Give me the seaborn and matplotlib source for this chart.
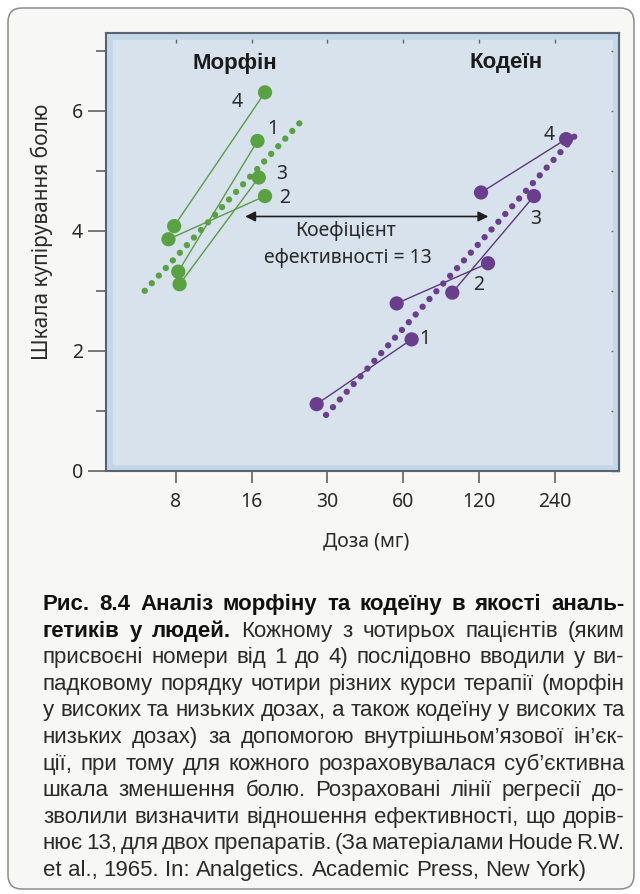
import numpy as np
import pandas as pd
import matplotlib
matplotlib.use("Agg")
import matplotlib.pyplot as plt
import seaborn as sns
from matplotlib.patches import FancyBboxPatch, Rectangle
from matplotlib.transforms import IdentityTransform
from matplotlib.ticker import FixedLocator, NullLocator, FixedFormatter

# ---------------- data ----------------
patients = [1, 2, 3, 4]
morphine_low_dose = [8.2, 7.5, 8.3, 7.9]
morphine_low_score = [3.32, 3.86, 3.11, 4.08]
morphine_high_dose = [16.9, 18.1, 17.1, 18.1]
morphine_high_score = [5.50, 4.58, 4.89, 6.31]
codeine_low_dose = [29.0, 60.2, 100.0, 130.0]
codeine_low_score = [1.11, 2.79, 2.97, 4.64]
codeine_high_dose = [69.0, 138.6, 210.8, 282.6]
codeine_high_score = [2.19, 3.46, 4.58, 5.53]
morphine_fit_dose = [6.04, 25.1]
morphine_fit_score = [3.00, 5.82]
codeine_fit_dose = [31.6, 313.4]
codeine_fit_score = [0.93, 5.63]
arrow_dose = [15.1, 139.0]
arrow_score = 4.24
x_ticks = [8, 16, 32, 64, 128, 256]
x_tick_labels = ["8", "16", "30", "60", "120", "240"]
y_major = [0, 2, 4, 6]
y_minor = [1, 3, 5, 7]
y_all = [0, 1, 2, 3, 4, 5, 6, 7]

drug_names = ["Морфін", "Кодеїн"]
x_label = "Доза (мг)"
y_label = "Шкала купірування болю"
ratio_text = ["Коефіцієнт", "ефективності = 13"]

caption = [
    [("Рис. 8.4 Аналіз морфіну та кодеїну в якості аналь-", "bold")],
    [("гетиків у людей.", "bold"), ("Кожному з чотирьох пацієнтів (яким", "normal")],
    [("присвоєні номери від 1 до 4) послідовно вводили у ви-", "normal")],
    [("падковому порядку чотири різних курси терапії (морфін", "normal")],
    [("у високих та низьких дозах, а також кодеїну у високих та", "normal")],
    [("низьких дозах) за допомогою внутрішньом’язової ін’єк-", "normal")],
    [("ції, при тому для кожного розраховувалася суб’єктивна", "normal")],
    [("шкала зменшення болю. Розраховані лінії регресії до-", "normal")],
    [("зволили визначити відношення ефективності, що дорів-", "normal")],
    [("нює 13, для двох препаратів. (За матеріалами Houde R.W.", "normal")],
    [("et al., 1965. In: Analgetics. Academic Press, New York)", "normal")],
]

# ---------------- styling ----------------
sns.set_theme(style="white")
plt.rcParams["font.family"] = ["Noto Sans", "DejaVu Sans"]

GREEN = "#58a23f"
GREEN_LINE = "#5a9c47"
PURPLE = "#6b3d8f"
PURPLE_LINE = "#5c3a7a"
TXT = "#2a2a2a"
SPINE = "#5a6470"
BOLD_FAM = ["Liberation Sans", "DejaVu Sans"]

W, H = 640, 894
fig = plt.figure(figsize=(W / 100, H / 100), dpi=100)
fig.patch.set_facecolor("white")

# rounded page frame
frame = FancyBboxPatch((8, 5), 626, 881, boxstyle="round,pad=0,rounding_size=14",
                       transform=IdentityTransform(), facecolor="#f7f7f5",
                       edgecolor="#8c8c8c", linewidth=1.1, zorder=0)
fig.add_artist(frame)

ax = fig.add_axes([106 / W, 1 - 470.7 / H, 513 / W, 437.7 / H])
ax.set_facecolor("#d7e2ed")
ax.set_xscale("log", base=2)
ax.set_xlim(4.24, 458)
ax.set_ylim(0, 7.30)

# inner bluish band of the panel
ax.add_patch(Rectangle((0, 0), 1, 1, transform=ax.transAxes, fill=False,
                       edgecolor="#c4d6e9", linewidth=9, zorder=0.5, clip_on=True))

rows = []
for drug, ld, ls, hd, hs in [
    (drug_names[0], morphine_low_dose, morphine_low_score, morphine_high_dose, morphine_high_score),
    (drug_names[1], codeine_low_dose, codeine_low_score, codeine_high_dose, codeine_high_score),
]:
    for i, p in enumerate(patients):
        rows.append((drug, p, ld[i], ls[i]))
        rows.append((drug, p, hd[i], hs[i]))
df = pd.DataFrame(rows, columns=["drug", "patient", "dose", "score"])
df["unit"] = df["drug"] + df["patient"].astype(str)

sns.lineplot(data=df, x="dose", y="score", hue="drug", units="unit", estimator=None,
             palette={drug_names[0]: GREEN_LINE, drug_names[1]: PURPLE_LINE},
             linewidth=1.0, legend=False, ax=ax, zorder=2)
ax.plot(morphine_fit_dose, morphine_fit_score, color=GREEN, linewidth=4.6,
        linestyle=(0, (0.001, 1.62)), dash_capstyle="round", zorder=3)
ax.plot(codeine_fit_dose, codeine_fit_score, color=PURPLE, linewidth=4.6,
        linestyle=(0, (0.001, 1.62)), dash_capstyle="round", zorder=3)
sns.scatterplot(data=df, x="dose", y="score", hue="drug",
                palette={drug_names[0]: GREEN, drug_names[1]: PURPLE},
                s=105, edgecolor="none", legend=False, ax=ax, zorder=4)

# patient number labels (offsets in pixels from the high-dose point)
m_off = {1: (15, 12), 2: (20, -2), 3: (23, 4), 4: (-28, -10)}
c_off = {1: (13, 0), 2: (-9, -22), 3: (2, -23), 4: (-17, 4)}
for i, p in enumerate(patients):
    ax.annotate(str(p), (morphine_high_dose[i], morphine_high_score[i]),
                xytext=m_off[p], textcoords="offset pixels", ha="center", va="center",
                fontsize=14, color=TXT, zorder=5)
    ax.annotate(str(p), (codeine_high_dose[i], codeine_high_score[i]),
                xytext=c_off[p], textcoords="offset pixels", ha="center", va="center",
                fontsize=14, color=TXT, zorder=5)

# potency arrow
ax.annotate("", xy=(arrow_dose[1], arrow_score), xytext=(arrow_dose[0], arrow_score),
            arrowprops=dict(arrowstyle="<|-|>", color="#1e1e1e", lw=1.2,
                            mutation_scale=15, shrinkA=0, shrinkB=0), zorder=5)
ax.text(0.467, 0.5476, ratio_text[0], transform=ax.transAxes, ha="center", va="center",
        fontsize=14, color=TXT)
ax.text(0.4723, 0.4853, ratio_text[1], transform=ax.transAxes, ha="center", va="center",
        fontsize=14, color=TXT)
ax.text(0.2505, 0.9315, drug_names[0], transform=ax.transAxes, ha="center", va="center",
        fontsize=16, fontweight="bold", family=BOLD_FAM, color="#1a1a1a")
ax.text(0.7797, 0.9315, drug_names[1], transform=ax.transAxes, ha="center", va="center",
        fontsize=16, fontweight="bold", family=BOLD_FAM, color="#1a1a1a")

# axes, ticks
for s in ax.spines.values():
    s.set_visible(True)
    s.set_color(SPINE)
    s.set_linewidth(1.5)
ax.xaxis.set_major_locator(FixedLocator(x_ticks))
ax.xaxis.set_major_formatter(FixedFormatter(x_tick_labels))
ax.xaxis.set_minor_locator(NullLocator())
ax.yaxis.set_major_locator(FixedLocator(y_major))
ax.yaxis.set_minor_locator(FixedLocator(y_minor))
ax.tick_params(axis="x", which="major", direction="out", length=8.6, width=1.1,
               color="#555555", bottom=True, top=False, pad=7, labelsize=14, labelcolor=TXT)
ax.tick_params(axis="y", which="major", direction="out", length=13, width=1.1,
               color="#555555", left=True, right=False, pad=3.5, labelsize=14, labelcolor=TXT)
ax.tick_params(axis="y", which="minor", direction="out", length=7.2, width=1.1,
               color="#555555", left=True, right=False)

secy = ax.secondary_yaxis("right")
secy.yaxis.set_major_locator(FixedLocator(y_all))
secy.yaxis.set_minor_locator(NullLocator())
secy.tick_params(direction="in", length=5.8, width=1.0, color="#666666", labelright=False)
secy.spines["right"].set_color(SPINE)
secy.spines["right"].set_linewidth(1.5)

secx = ax.secondary_xaxis("top")
secx.xaxis.set_major_locator(FixedLocator(x_ticks))
secx.xaxis.set_minor_locator(NullLocator())
secx.tick_params(direction="in", length=7, width=1.0, color="#666666", labeltop=False)
secx.spines["top"].set_color(SPINE)
secx.spines["top"].set_linewidth(1.5)

ax.set_xlabel(x_label, fontsize=14, color=TXT, va="center")
ax.xaxis.set_label_coords(0.507, -0.1606)
ax.set_ylabel(y_label, fontsize=15, color=TXT, va="center")
ax.yaxis.set_label_coords(-0.1248, 0.5465)

# ---------------- justified caption ----------------
CAP_FAM = ["Liberation Sans", "DejaVu Sans"]
x0, x1 = 43.0, 624.5
width = x1 - x0
base0, step = 610.0, 26.6
renderer = fig.canvas.get_renderer()


def measure(word, fs, weight):
    t = fig.text(0, 0, word, fontsize=fs, fontweight=weight, family=CAP_FAM)
    w = t.get_window_extent(renderer).width
    t.remove()
    return w


tokens = []
for line in caption:
    toks = []
    for seg, wt in line:
        toks += [(w, wt) for w in seg.split(" ")]
    tokens.append(toks)

# separate sizes for bold and regular text, each as large as fits
fs_try = 16.0
min_gap = 0.15 * fs_try / 0.72
scale_b, scale_r = 1.0, 1.0
for li, toks in enumerate(tokens[:-1]):
    bw = sum(measure(w, fs_try, wt) for w, wt in toks if wt == "bold")
    rw = sum(measure(w, fs_try, wt) for w, wt in toks if wt != "bold")
    avail = width - (len(toks) - 1) * min_gap
    if rw == 0:
        scale_b = min(scale_b, avail / bw)
    elif bw == 0:
        scale_r = min(scale_r, avail / rw)
fs_b = fs_try * scale_b
fs_r = fs_try * scale_r
fs_of = {"bold": fs_b, "normal": fs_r}

space = measure("a a", fs_r, "normal") - measure("aa", fs_r, "normal")
for li, toks in enumerate(tokens):
    widths = [measure(w, fs_of[wt], wt) for w, wt in toks]
    if li < len(tokens) - 1 and len(toks) > 1:
        gap = (width - sum(widths)) / (len(toks) - 1)
    else:
        gap = space
    x = x0
    yb = base0 + li * step
    for (w, wt), wd in zip(toks, widths):
        fig.text(x / W, 1 - yb / H, w, fontsize=fs_of[wt], fontweight=wt, family=CAP_FAM,
                 color="#111111" if wt == "bold" else "#2b2b2b", ha="left", va="baseline")
        x += wd + gap

fig.savefig("out.png", dpi=100, facecolor=fig.get_facecolor())
